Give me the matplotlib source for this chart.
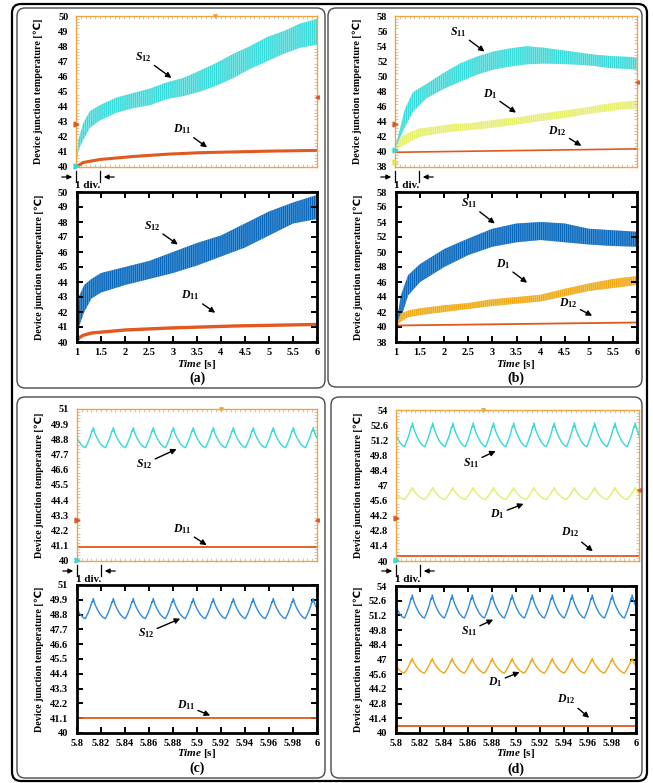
import numpy as np
import matplotlib
matplotlib.use('Agg')
import matplotlib.pyplot as plt
from matplotlib.patches import FancyBboxPatch, FancyArrowPatch
from matplotlib.lines import Line2D
from matplotlib.transforms import IdentityTransform

# ---------------- data ----------------
# (a) measured (scope) : S12 ripple band + D11
a_top_t = [1.0, 1.05, 1.15, 1.29, 1.5, 1.84, 2.19, 2.54, 2.88, 3.23, 3.58, 3.92, 4.27, 4.61, 4.96, 5.31, 5.65, 6.0]
a_top_s12_hi = [40.2, 41.8, 42.9, 43.7, 44.1, 44.6, 44.9, 45.2, 45.6, 45.9, 46.4, 46.9, 47.5, 48.0, 48.6, 49.0, 49.5, 49.8]
a_top_s12_lo = [40.1, 41.1, 41.8, 42.6, 43.1, 43.6, 43.9, 44.1, 44.5, 44.7, 45.0, 45.4, 45.9, 46.5, 47.0, 47.5, 47.9, 48.1]
a_top_d11_t = [1.0, 1.15, 1.5, 2.2, 2.9, 3.6, 4.3, 5.0, 6.0]
a_top_d11 = [40.0, 40.3, 40.5, 40.7, 40.85, 40.95, 41.0, 41.05, 41.1]
# (a) simulated
a_bot_t = [1.0, 1.05, 1.15, 1.3, 1.5, 2.0, 2.5, 3.0, 3.5, 4.0, 4.5, 5.0, 5.5, 6.0]
a_bot_s12_hi = [40.3, 43.1, 43.8, 44.2, 44.6, 45.0, 45.4, 46.0, 46.6, 47.1, 47.9, 48.7, 49.3, 49.8]
a_bot_s12_lo = [40.2, 41.1, 42.0, 42.9, 43.3, 43.8, 44.2, 44.6, 45.1, 45.7, 46.3, 47.1, 47.9, 48.2]
a_bot_d11_t = [1.0, 1.05, 1.13, 1.3, 1.55, 2.0, 2.9, 4.3, 6.0]
a_bot_d11 = [40.1, 40.3, 40.45, 40.6, 40.67, 40.8, 40.93, 41.07, 41.17]

# (b) measured : S11, D1 ripple bands + D12
b_top_t = [1.0, 1.1, 1.2, 1.37, 1.65, 1.99, 2.34, 2.68, 3.03, 3.37, 3.72, 4.07, 4.41, 4.76, 5.10, 5.45, 5.79, 6.0]
b_top_s11_hi = [40.5, 43.0, 45.6, 47.9, 49.0, 50.4, 51.7, 52.6, 53.3, 53.7, 54.0, 53.8, 53.5, 53.2, 52.9, 52.7, 52.6, 52.5]
b_top_s11_lo = [40.2, 41.8, 43.2, 45.3, 47.1, 48.3, 49.3, 50.2, 50.9, 51.3, 51.6, 51.7, 51.65, 51.55, 51.4, 51.1, 51.0, 50.9]
b_top_d1_t = [1.0, 1.13, 1.30, 1.51, 1.86, 2.2, 2.55, 2.89, 3.24, 3.58, 3.93, 4.27, 4.62, 4.96, 5.31, 5.65, 6.0]
b_top_d1_hi = [40.5, 42.0, 42.6, 43.1, 43.4, 43.7, 43.8, 44.1, 44.4, 44.6, 45.0, 45.3, 45.6, 45.9, 46.3, 46.6, 46.8]
b_top_d1_lo = [40.2, 40.7, 41.3, 42.0, 42.4, 42.7, 42.9, 43.1, 43.4, 43.7, 44.0, 44.3, 44.6, 45.0, 45.3, 45.6, 45.7]
b_top_d12_t = [1.0, 6.0]
b_top_d12 = [39.95, 40.4]
# (b) simulated
b_bot_t = [1.0, 1.1, 1.25, 1.5, 2.0, 2.5, 3.0, 3.5, 4.0, 4.5, 5.0, 5.5, 6.0]
b_bot_s11_hi = [40.2, 44.2, 46.9, 48.4, 50.4, 51.8, 53.1, 53.8, 54.0, 53.8, 53.1, 52.9, 52.7]
b_bot_s11_lo = [40.2, 41.1, 44.2, 46.0, 48.0, 49.6, 50.7, 51.3, 51.6, 51.3, 51.0, 50.8, 50.7]
b_bot_d1_hi = [40.2, 41.8, 42.2, 42.5, 42.9, 43.2, 43.7, 44.0, 44.3, 45.1, 45.8, 46.4, 46.8]
b_bot_d1_lo = [40.2, 40.7, 41.3, 41.6, 42.0, 42.4, 42.8, 43.1, 43.4, 44.1, 44.8, 45.2, 45.6]
b_bot_d12_t = [1.0, 6.0]
b_bot_d12 = [40.2, 40.6]

# (c), (d) zoomed steady state: peak instants of the 60 Hz ripple [s]
peaks = [5.7968, 5.8135, 5.8302, 5.8468, 5.8635, 5.8802, 5.8968, 5.9135,
         5.9302, 5.9468, 5.9635, 5.9802, 5.9968, 6.0135]
# one ripple period around a peak: time offset [s] and height between trough (0) and peak (1)
cycle_dt = [-0.0065, -0.0045, -0.0025, -0.001, -0.0005, 0.0, 0.0015, 0.0035, 0.006, 0.0085]
cycle_h = [0.0, 0.25, 0.55, 0.85, 0.82, 1.0, 0.7, 0.45, 0.2, 0.05]

c_top_s12 = (48.2, 49.65)   # (trough, peak)
c_bot_s12 = (48.5, 50.0)
c_top_d11 = 41.0
c_bot_d11 = 41.1
d_top_s11 = (50.6, 52.8)
d_bot_s11 = (50.95, 53.15)
d_top_d1 = (45.7, 46.8)
d_bot_d1 = (45.7, 47.1)
d_top_d12 = 40.5
d_bot_d12 = 40.7

# axis ticks
ab_xticks = [1, 1.5, 2, 2.5, 3, 3.5, 4, 4.5, 5, 5.5, 6]
ab_xlabels = ['1', '1.5', '2', '2.5', '3', '3.5', '4', '4.5', '5', '5.5', '6']
cd_xticks = [5.8, 5.82, 5.84, 5.86, 5.88, 5.9, 5.92, 5.94, 5.96, 5.98, 6.0]
cd_xlabels = ['5.8', '5.82', '5.84', '5.86', '5.88', '5.9', '5.92', '5.94', '5.96', '5.98', '6']
a_yticks = [40, 41, 42, 43, 44, 45, 46, 47, 48, 49, 50]
b_yticks = [38, 40, 42, 44, 46, 48, 50, 52, 54, 56, 58]
c_yticks = [40, 41.1, 42.2, 43.3, 44.4, 45.5, 46.6, 47.7, 48.8, 49.9, 51]
c_ylabels = ['40', '41.1', '42.2', '43.3', '44.4', '45.5', '46.6', '47.7', '48.8', '49.9', '51']
d_yticks = [40, 41.4, 42.8, 44.2, 45.6, 47, 48.4, 49.8, 51.2, 52.6, 54]
d_ylabels = ['40', '41.4', '42.8', '44.2', '45.6', '47', '48.4', '49.8', '51.2', '52.6', '54']

# ---------------- style ----------------
plt.rcParams['font.family'] = ['Liberation Serif', 'DejaVu Sans']
plt.rcParams['font.weight'] = 'bold'
plt.rcParams['mathtext.fontset'] = 'custom'
plt.rcParams['mathtext.it'] = 'Liberation Serif:italic:bold'
plt.rcParams['mathtext.rm'] = 'Liberation Serif:bold'
plt.rcParams['hatch.linewidth'] = 0.5

W, H = 653, 783
fig = plt.figure(figsize=(W / 100, H / 100), dpi=100)

CYAN, CYAN_L = '#36d8d8', '#9beeee'
YEL, YEL_L = '#e6ee6a', '#f6f9b8'
ORG = '#e2581f'
BLUE, BLUE_L = '#0a66b8', '#5da6e4'
GOLD, GOLD_L = '#eda816', '#f8d274'
LBLUE = '#2f8ad8'
SCOPE = '#f3a43a'
TICK = 7.5


def px_axes(l, t, r, b):
    return fig.add_axes([l / W, 1 - b / H, (r - l) / W, (b - t) / H])


def ripple(levels):
    lo, hi = levels
    t = np.concatenate([p + np.array(cycle_dt) for p in peaks])
    v = lo + (hi - lo) * np.tile(cycle_h, len(peaks))
    return t, v


def ylab(ax, pad_px):
    ax.set_ylabel('Device junction temperature [℃]', fontsize=7.3, fontweight='bold')
    w = ax.get_position().width * W
    ax.yaxis.set_label_coords(-pad_px / w, 0.5)


def scope_axes(ax, xlim, ylim, yticks, ylabels, xminor, yminor):
    ax.set_xlim(xlim)
    ax.set_ylim(ylim)
    for s in ax.spines.values():
        s.set_color(SCOPE)
        s.set_linewidth(1.0)
    ax.set_xticks([])
    ax.set_yticks(yticks, ylabels)
    ax.set_xticks(np.arange(xlim[0], xlim[1] + 1e-9, xminor), minor=True)
    ax.set_yticks(np.arange(ylim[0], ylim[1] + 1e-9, yminor), minor=True)
    ax.tick_params(axis='y', which='major', length=0, pad=5.5, labelsize=TICK)
    ax.tick_params(which='minor', direction='in', length=2, width=0.5, color='#b4b4b4',
                   top=True, right=True, bottom=True, left=True)
    ylab(ax, 33)


def sim_axes(ax, xlim, ylim, xticks, xlabels, yticks, ylabels):
    ax.set_xlim(xlim)
    ax.set_ylim(ylim)
    for s in ax.spines.values():
        s.set_color('black')
        s.set_linewidth(2.0)
    ax.set_xticks(xticks, xlabels)
    ax.set_yticks(yticks, ylabels)
    ax.tick_params(direction='in', length=4.5, width=1.4, top=True, right=True,
                   labelsize=TICK)
    ax.tick_params(axis='y', pad=6.5)
    ax.tick_params(axis='x', pad=4)
    ylab(ax, 33)


def tag(ax, text, xy_text, xy_tip, k=1.35):
    # push the label a little away from the arrow tip so the arrow shows
    tx = xy_tip[0] + k * (xy_text[0] - xy_tip[0])
    ty = xy_tip[1] + k * (xy_text[1] - xy_tip[1])
    ax.annotate(text, xy=xy_tip, xytext=(tx, ty), fontsize=8.5, ha='center', va='center',
                arrowprops=dict(arrowstyle='-|>', color='k', lw=1.0, mutation_scale=8,
                                shrinkA=0, shrinkB=0))


def band(ax, t, lo, hi, fc, hc):
    ax.fill_between(t, lo, hi, facecolor=fc, edgecolor=hc, hatch='|' * 8, linewidth=0)


def one_div(l, b):
    # "1 div." marker under the scope screen, in pixels
    tr = IdentityTransform()
    y = H - (b + 10)
    div = 24
    fig.add_artist(Line2D([l, l], [H - (b + 4), H - (b + 15)], color='k', lw=0.9, transform=tr))
    fig.add_artist(Line2D([l + div, l + div], [H - (b + 4), H - (b + 15)], color='k', lw=0.9, transform=tr))
    fig.add_artist(FancyArrowPatch((l - 17, y), (l - 1, y), arrowstyle='-|>',
                                   mutation_scale=7, color='k', lw=0.9, transform=tr))
    fig.add_artist(FancyArrowPatch((l + div + 17, y), (l + div + 1, y), arrowstyle='-|>',
                                   mutation_scale=7, color='k', lw=0.9, transform=tr))
    fig.text((l - 1) / W, 1 - (b + 19) / H, '1 div.', fontsize=8, ha='left', va='center')


def marks(ax, x0, x1, y1, left, right, top):
    for y, c in left:
        ax.plot([x0], [y], marker='>', ms=3.5, color=c, clip_on=False, zorder=5)
    for y, c in right:
        ax.plot([x1], [y], marker='<', ms=2.5, color=c, clip_on=False, zorder=5)
    if top is not None:
        ax.plot([top], [y1], marker='v', ms=2.5, color=SCOPE, clip_on=False, zorder=5)


# ---------------- panel frames ----------------
tr = IdentityTransform()
fig.add_artist(FancyBboxPatch((12, H - 781), 635, 777, boxstyle='round,pad=0,rounding_size=9',
                              fill=False, ec='black', lw=1.6, transform=tr))
for l, t, r, b in [(17, 8, 325, 388), (328, 8, 642, 387), (17, 397, 325, 778), (331, 397, 642, 778)]:
    fig.add_artist(FancyBboxPatch((l, H - b), r - l, b - t, boxstyle='round,pad=0,rounding_size=8',
                                  fill=False, ec='#4a4a4a', lw=1.0, transform=tr))

# ---------------- (a) ----------------
ax = px_axes(76, 16, 317, 167)
band(ax, a_top_t, a_top_s12_lo, a_top_s12_hi, CYAN, CYAN_L)
ax.plot(a_top_d11_t, a_top_d11, color=ORG, lw=2.2)
scope_axes(ax, (1, 6), (40, 50), a_yticks, [str(v) for v in a_yticks], 0.1, 0.2)
marks(ax, 1, 6, 50, [(42.86, ORG), (40.05, CYAN)], [(44.64, ORG)], 3.88)
tag(ax, r'$\mathit{S}_{\mathit{12}}$', (2.55, 46.9), (2.98, 45.9))
tag(ax, r'$\mathit{D}_{\mathit{11}}$', (3.33, 42.2), (3.72, 41.3))
one_div(76, 167)

ax = px_axes(77, 192, 317, 342)
band(ax, a_bot_t, a_bot_s12_lo, a_bot_s12_hi, BLUE, BLUE_L)
ax.plot(a_bot_d11_t, a_bot_d11, color=ORG, lw=2.4)
sim_axes(ax, (1, 6), (40, 50), ab_xticks, ab_xlabels, a_yticks, [str(v) for v in a_yticks])
tag(ax, r'$\mathit{S}_{\mathit{12}}$', (2.7, 47.4), (3.1, 46.5))
tag(ax, r'$\mathit{D}_{\mathit{11}}$', (3.5, 42.8), (3.88, 41.95))

# ---------------- (b) ----------------
ax = px_axes(395, 16, 637, 167)
band(ax, b_top_t, b_top_s11_lo, b_top_s11_hi, CYAN, CYAN_L)
band(ax, b_top_d1_t, b_top_d1_lo, b_top_d1_hi, YEL, YEL_L)
ax.plot(b_top_d12_t, b_top_d12, color=ORG, lw=1.2)
scope_axes(ax, (1, 6), (38, 58), b_yticks, [str(v) for v in b_yticks], 0.1, 0.4)
marks(ax, 1, 6, 58, [(43.75, ORG), (40.2, CYAN), (38.6, '#e8e04a')], [(49.3, ORG)], None)
tag(ax, r'$\mathit{S}_{\mathit{11}}$', (2.45, 55.2), (2.85, 53.3))
tag(ax, r'$\mathit{D}_{\mathit{1}}$', (3.1, 47.0), (3.5, 45.2))
tag(ax, r'$\mathit{D}_{\mathit{12}}$', (4.4, 42.6), (4.85, 40.8), k=1.1)
one_div(395, 167)

ax = px_axes(396, 192, 637, 342)
band(ax, b_bot_t, b_bot_s11_lo, b_bot_s11_hi, BLUE, BLUE_L)
band(ax, b_bot_t, b_bot_d1_lo, b_bot_d1_hi, GOLD, GOLD_L)
ax.plot(b_bot_d12_t, b_bot_d12, color=ORG, lw=1.3)
sim_axes(ax, (1, 6), (38, 58), ab_xticks, ab_xlabels, b_yticks, [str(v) for v in b_yticks])
tag(ax, r'$\mathit{S}_{\mathit{11}}$', (2.65, 55.8), (3.05, 53.8))
tag(ax, r'$\mathit{D}_{\mathit{1}}$', (3.35, 47.7), (3.72, 45.9))
tag(ax, r'$\mathit{D}_{\mathit{12}}$', (4.62, 43.0), (5.07, 41.5), k=1.1)

# ---------------- (c) ----------------
ax = px_axes(77, 409, 317, 561)
t, v = ripple(c_top_s12)
ax.plot(t, v, color=CYAN, lw=1.0)
ax.plot([5.8, 6.0], [c_top_d11, c_top_d11], color=ORG, lw=1.3)
scope_axes(ax, (5.8, 6.0), (40, 51), c_yticks, c_ylabels, 0.004, 0.22)
marks(ax, 5.8, 6.0, 51, [(43.0, ORG), (40.05, CYAN)], [(43.0, ORG)], 5.92)
tag(ax, r'$\mathit{S}_{\mathit{12}}$', (5.863, 47.3), (5.883, 48.1))
tag(ax, r'$\mathit{D}_{\mathit{11}}$', (5.893, 42.0), (5.908, 41.15))
one_div(77, 561)

ax = px_axes(77, 585, 317, 733)
t, v = ripple(c_bot_s12)
ax.plot(t, v, color=LBLUE, lw=1.0)
ax.plot([5.8, 6.0], [c_bot_d11, c_bot_d11], color=ORG, lw=1.3)
sim_axes(ax, (5.8, 6.0), (40, 51), cd_xticks, cd_xlabels, c_yticks, c_ylabels)
tag(ax, r'$\mathit{S}_{\mathit{12}}$', (5.865, 47.7), (5.886, 48.5))
tag(ax, r'$\mathit{D}_{\mathit{11}}$', (5.896, 41.85), (5.911, 41.3))

# ---------------- (d) ----------------
ax = px_axes(396, 410, 639, 561)
t, v = ripple(d_top_s11)
ax.plot(t, v, color=CYAN, lw=1.0)
t, v = ripple(d_top_d1)
ax.plot(t, v, color=YEL, lw=1.0)
ax.plot([5.8, 6.0], [d_top_d12, d_top_d12], color=ORG, lw=1.3)
scope_axes(ax, (5.8, 6.0), (40, 54), d_yticks, d_ylabels, 0.004, 0.28)
marks(ax, 5.8, 6.0, 54, [(44.0, ORG), (40.05, CYAN)], [(46.6, ORG)], 5.872)
tag(ax, r'$\mathit{S}_{\mathit{11}}$', (5.867, 49.4), (5.882, 50.2))
tag(ax, r'$\mathit{D}_{\mathit{1}}$', (5.889, 44.6), (5.905, 45.3))
tag(ax, r'$\mathit{D}_{\mathit{12}}$', (5.948, 42.2), (5.962, 40.9))
one_div(396, 561)

ax = px_axes(396, 586, 636, 733)
t, v = ripple(d_bot_s11)
ax.plot(t, v, color=LBLUE, lw=1.0)
t, v = ripple(d_bot_d1)
ax.plot(t, v, color=GOLD, lw=1.0)
ax.plot([5.8, 6.0], [d_bot_d12, d_bot_d12], color=ORG, lw=1.3)
sim_axes(ax, (5.8, 6.0), (40, 54), cd_xticks, cd_xlabels, d_yticks, d_ylabels)
tag(ax, r'$\mathit{S}_{\mathit{11}}$', (5.866, 50.0), (5.881, 50.8))
tag(ax, r'$\mathit{D}_{\mathit{1}}$', (5.888, 45.1), (5.903, 45.8))
tag(ax, r'$\mathit{D}_{\mathit{12}}$', (5.947, 42.8), (5.961, 41.45))

# ---------------- x labels and captions ----------------
for cx, y_time, y_cap, cap in [(197, 364, 378, '(a)'), (516, 364, 378, '(b)'),
                               (197, 753, 768, '(c)'), (516, 753, 769, '(d)')]:
    fig.text(cx / W, 1 - y_time / H, r'$\mathit{Time}$ [s]', fontsize=8, ha='center', va='center')
    fig.text(cx / W, 1 - y_cap / H, cap, fontsize=10, ha='center', va='center')

fig.savefig('out.png', dpi=100)
